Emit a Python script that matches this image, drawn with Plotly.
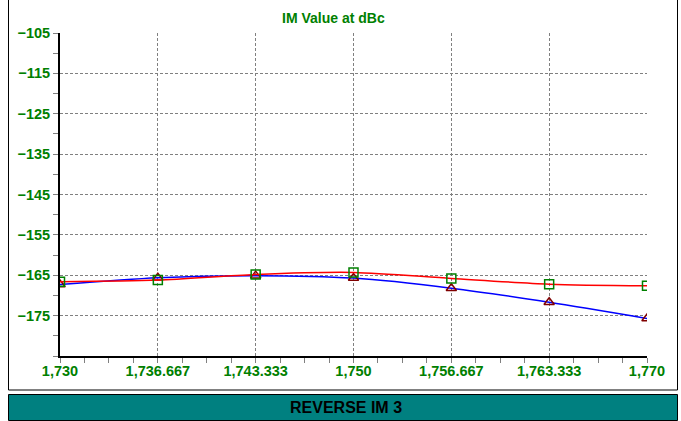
import plotly.graph_objects as go

# ---- data ----
freq = [1730, 1736.667, 1743.333, 1750, 1756.667, 1763.333, 1770]
freq_labels = ["1,730", "1,736.667", "1,743.333", "1,750", "1,756.667", "1,763.333", "1,770"]
im_red = [-166.6, -166.2, -164.8, -164.3, -165.8, -167.2, -167.6]
im_blue = [-167.3, -165.6, -165.1, -165.7, -168.2, -171.7, -175.7]
y_ticks = [-105, -115, -125, -135, -145, -155, -165, -175]

W, H = 681, 421
L, R, T, B = 60, 34, 33, 65
PW, PH = W - L - R, H - T - B


def px(x):
    return (x - L) / PW


def py(y):
    return (H - B - y) / PH


GREEN = "#008000"
FONT = "Liberation Sans, Arial, sans-serif"

fig = go.Figure()
fig.add_trace(go.Scatter(
    x=freq, y=im_blue, mode="lines+markers",
    line=dict(color="#0000FF", width=1.5, shape="spline", smoothing=0.8),
    marker=dict(symbol="triangle-up-open", size=9, color="#800000", line=dict(width=1.5)),
    showlegend=False,
))
fig.add_trace(go.Scatter(
    x=freq, y=im_red, mode="lines+markers",
    line=dict(color="#FF0000", width=1.5, shape="spline", smoothing=0.8),
    marker=dict(symbol="square-open", size=9, color=GREEN, line=dict(width=1.5)),
    showlegend=False,
))

fig.update_layout(
    width=W, height=H,
    margin=dict(l=L, r=R, t=T, b=B, autoexpand=False),
    paper_bgcolor="white", plot_bgcolor="white",
    font=dict(family=FONT, color=GREEN, size=13),
    xaxis=dict(
        range=[1730, 1770], tickvals=freq, ticktext=freq_labels,
        automargin=False,
        showgrid=True, gridcolor="#808080", griddash="3px,2px", gridwidth=1,
        showline=True, linecolor="black", linewidth=2,
        ticks="outside", ticklen=5, tickcolor="#808080",
        ticklabelstandoff=-4,
        minor=dict(dtick=40 / 24, tick0=1730, ticks="outside", ticklen=5, tickcolor="#808080", showgrid=False),
        tickfont=dict(family=FONT, color=GREEN, size=14.5, weight="bold"),
        zeroline=False,
    ),
    yaxis=dict(
        range=[-185, -105], tickvals=y_ticks,
        automargin=False,
        showgrid=True, gridcolor="#808080", griddash="3px,2px", gridwidth=1,
        showline=True, linecolor="black", linewidth=2,
        ticks="outside", ticklen=5, tickcolor="#808080",
        minor=dict(dtick=5, tick0=-105, ticks="outside", ticklen=5, tickcolor="#808080", showgrid=False),
        tickfont=dict(family=FONT, color=GREEN, size=14.5, weight="bold"),
        zeroline=False,
    ),
    shapes=[
        dict(type="rect", xref="paper", yref="paper",
             x0=px(8.5), x1=px(677.5), y0=py(-3), y1=py(390),
             line=dict(color="black", width=1), fillcolor="rgba(0,0,0,0)", layer="below"),
        dict(type="rect", xref="paper", yref="paper",
             x0=px(8.5), x1=px(677.5), y0=py(394.5), y1=py(420.5),
             line=dict(color="black", width=1), fillcolor="#008080"),
    ],
    annotations=[
        dict(text="<b>IM Value at dBc</b>", xref="paper", yref="paper",
             x=px(333), y=py(18), xanchor="center", yanchor="middle", showarrow=False,
             font=dict(family=FONT, color=GREEN, size=14)),
        dict(text="<b>REVERSE IM 3</b>", xref="paper", yref="paper",
             x=px(346), y=py(407.5), xanchor="center", yanchor="middle", showarrow=False,
             font=dict(family=FONT, color="black", size=16)),
    ],
)

fig.write_html("out.html", config={"displayModeBar": False},
               post_script="document.body.style.margin='0';document.body.style.overflow='hidden';")
